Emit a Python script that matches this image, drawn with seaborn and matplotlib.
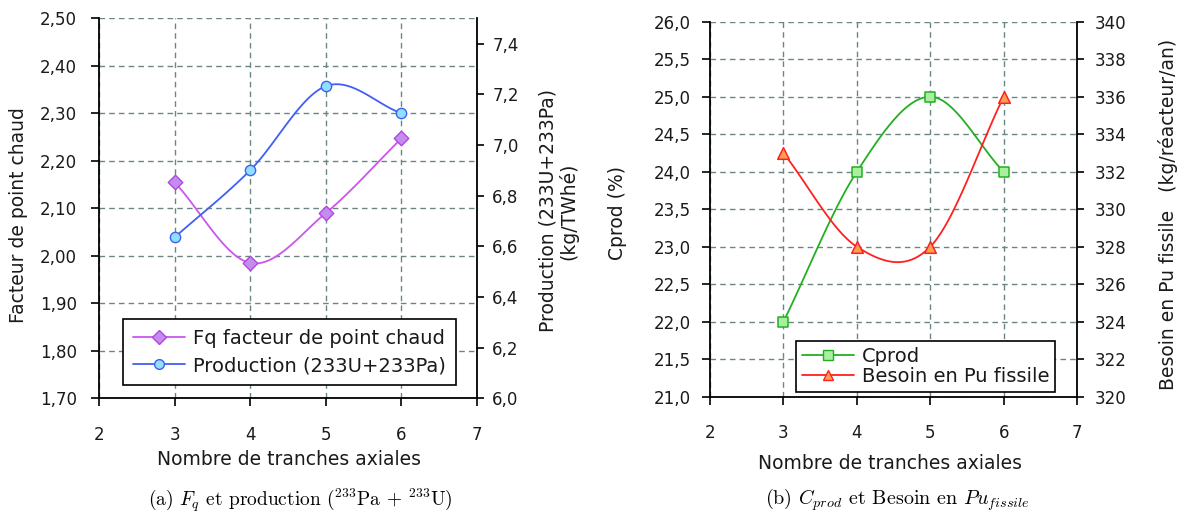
import numpy as np
import pandas as pd
import matplotlib
matplotlib.use("Agg")
import matplotlib.pyplot as plt
from matplotlib.lines import Line2D
from matplotlib.ticker import FuncFormatter, MultipleLocator
import seaborn as sns

# ---------------- data ----------------
tranches = [3, 4, 5, 6]
fq = [2.155, 1.985, 2.09, 2.247]
production = [6.635, 6.90, 7.232, 7.125]
cprod = [22.0, 24.0, 25.0, 24.0]
besoin = [333.0, 328.0, 328.0, 336.0]

sns.set_theme(style="white")
plt.rcParams["font.family"] = ["DejaVu Sans"]
plt.rcParams["mathtext.fontset"] = "cm"

TXT = "#1a1a1a"
GRID = "#6b8585"
LBL = 13.5
LEG = 14


def smooth(x, y, n=40):
    x = np.asarray(x, float)
    y = np.asarray(y, float)
    m = np.zeros_like(y)
    m[0] = (y[1] - y[0]) / (x[1] - x[0])
    m[-1] = (y[-1] - y[-2]) / (x[-1] - x[-2])
    for i in range(1, len(x) - 1):
        m[i] = (y[i + 1] - y[i - 1]) / (x[i + 1] - x[i - 1])
    xs, ys = [], []
    for i in range(len(x) - 1):
        h = x[i + 1] - x[i]
        t = np.linspace(0, 1, n, endpoint=(i == len(x) - 2))
        h00 = 2 * t**3 - 3 * t**2 + 1
        h10 = t**3 - 2 * t**2 + t
        h01 = -2 * t**3 + 3 * t**2
        h11 = t**3 - t**2
        xs.append(x[i] + t * h)
        ys.append(h00 * y[i] + h10 * h * m[i] + h01 * y[i + 1] + h11 * h * m[i + 1])
    return pd.DataFrame({"x": np.concatenate(xs), "y": np.concatenate(ys)})


def comma(fmt):
    return FuncFormatter(lambda v, p: (fmt % v).replace(".", ","))


def style_axes(ax, ax2, ypad_left, ypad_right):
    for a in (ax, ax2):
        a.set_facecolor("none")
        for s in a.spines.values():
            s.set_visible(False)
    ax.spines["left"].set_visible(True)
    ax.spines["bottom"].set_visible(True)
    ax2.spines["right"].set_visible(True)
    for s in (ax.spines["left"], ax.spines["bottom"], ax2.spines["right"]):
        s.set_color("black")
        s.set_linewidth(1.3)
    ax.set_xlim(2, 7)
    ax.xaxis.set_major_locator(MultipleLocator(1))
    ax.tick_params(axis="x", direction="out", length=6, width=1.2, color="black",
                   labelsize=12, labelcolor=TXT, bottom=True, pad=14)
    ax.tick_params(axis="y", direction="out", length=6, width=1.2, color="black",
                   labelsize=12, labelcolor=TXT, left=True, pad=ypad_left)
    ax2.tick_params(axis="y", direction="out", length=5, width=1.2, color="black",
                    labelsize=12, labelcolor=TXT, right=True, pad=ypad_right)
    ax.grid(True, which="major", color=GRID, linestyle=(0, (4, 3)), linewidth=1.0)
    ax.set_axisbelow(True)


def place_labels(ax, ax2, xl, yl, yr):
    ax.xaxis.set_label_coords(*xl)
    ax.xaxis.label.set_va("center")
    ax.yaxis.set_label_coords(*yl)
    ax.yaxis.label.set_va("center")
    ax2.yaxis.set_label_coords(*yr)
    ax2.yaxis.label.set_va("center")


fig = plt.figure(figsize=(11.85, 5.24), dpi=100)

# ================= panel (a) =================
axA = fig.add_axes([0.0835, 0.2399, 0.3190, 0.7252])
axA2 = axA.twinx()
style_axes(axA, axA2, 10, 6)
axA.set_ylim(1.70, 2.50)
axA.yaxis.set_major_locator(MultipleLocator(0.10))
axA.yaxis.set_major_formatter(comma("%.2f"))
axA2.set_ylim(6.0, 7.5)
axA2.set_yticks(np.arange(6.0, 7.41, 0.2))
axA2.yaxis.set_major_formatter(comma("%.1f"))

c_fq, c_fq_face, c_fq_edge = "#cc55ee", "#c58cf0", "#b048e0"
c_pr, c_pr_face = "#3f5ff5", "#8fe0ff"

sA = smooth(tranches, fq)
sns.lineplot(data=sA, x="x", y="y", ax=axA, color=c_fq, linewidth=1.3, sort=False)
sns.scatterplot(x=tranches, y=fq, ax=axA, marker="D", s=55, color=c_fq_face,
                edgecolor=c_fq_edge, linewidth=1.0, zorder=5)
sP = smooth(tranches, production)
sns.lineplot(data=sP, x="x", y="y", ax=axA2, color=c_pr, linewidth=1.3, sort=False)
sns.scatterplot(x=tranches, y=production, ax=axA2, marker="o", s=55, color=c_pr_face,
                edgecolor=c_pr, linewidth=1.0, zorder=5)

axA.set_xlabel("Nombre de tranches axiales", fontsize=LBL, color=TXT)
axA.set_ylabel("Facteur de point chaud", fontsize=LBL, color=TXT)
axA2.set_ylabel("Production (233U+233Pa)\n(kg/TWhé)", fontsize=LBL, color=TXT,
                linespacing=1.05)
place_labels(axA, axA2, (0.503, -0.162), (-0.214, 0.482), (1.216, 0.493))

hA = [Line2D([], [], color=c_fq, lw=1.3, marker="D", ms=7, mfc=c_fq_face, mec=c_fq_edge),
      Line2D([], [], color=c_pr, lw=1.3, marker="o", ms=7, mfc=c_pr_face, mec=c_pr)]
legA = axA2.legend(hA, ["Fq facteur de point chaud", "Production (233U+233Pa)"],
                   loc="lower left", bbox_to_anchor=(0.1038, 0.2653),
                   bbox_transform=fig.transFigure, fontsize=LEG, frameon=True,
                   fancybox=False, framealpha=1, edgecolor="black",
                   handlelength=2.7, handletextpad=0.4, borderpad=0.5,
                   borderaxespad=0, labelspacing=0.45)
legA.get_frame().set_linewidth(1.2)
for t in legA.get_texts():
    t.set_color(TXT)

# ================= panel (b) =================
axB = fig.add_axes([0.5992, 0.2429, 0.3097, 0.7156])
axB2 = axB.twinx()
style_axes(axB, axB2, 8, 8)
axB.set_ylim(21.0, 26.0)
axB.yaxis.set_major_locator(MultipleLocator(0.5))
axB.yaxis.set_major_formatter(comma("%.1f"))
axB2.set_ylim(320, 340)
axB2.yaxis.set_major_locator(MultipleLocator(2))

c_cp, c_cp_face = "#22b022", "#a8f0a0"
c_be, c_be_face = "#ff2020", "#ffa050"

sC = smooth(tranches, cprod)
sns.lineplot(data=sC, x="x", y="y", ax=axB, color=c_cp, linewidth=1.3, sort=False)
sns.scatterplot(x=tranches, y=cprod, ax=axB, marker="s", s=60, color=c_cp_face,
                edgecolor=c_cp, linewidth=1.1, zorder=5)
sB = smooth(tranches, besoin)
sns.lineplot(data=sB, x="x", y="y", ax=axB2, color=c_be, linewidth=1.3, sort=False)
sns.scatterplot(x=tranches, y=besoin, ax=axB2, marker="^", s=70, color=c_be_face,
                edgecolor=c_be, linewidth=1.1, zorder=5)

axB.set_xlabel("Nombre de tranches axiales", fontsize=LBL, color=TXT)
axB.set_ylabel("Cprod (%)", fontsize=LBL, color=TXT)
axB2.set_ylabel("Besoin en Pu fissile   (kg/réacteur/an)", fontsize=LBL, color=TXT)
place_labels(axB, axB2, (0.49, -0.177), (-0.253, 0.490), (1.248, 0.487))

hB = [Line2D([], [], color=c_cp, lw=1.3, marker="s", ms=7, mfc=c_cp_face, mec=c_cp),
      Line2D([], [], color=c_be, lw=1.3, marker="^", ms=7.5, mfc=c_be_face, mec=c_be)]
legB = axB2.legend(hB, ["Cprod", "Besoin en Pu fissile"],
                   loc="lower left", bbox_to_anchor=(0.6717, 0.2519),
                   bbox_transform=fig.transFigure, fontsize=LEG, frameon=True,
                   fancybox=False, framealpha=1, edgecolor="black",
                   handlelength=2.7, handletextpad=0.4, borderpad=0.3,
                   borderaxespad=0, labelspacing=0.05)
legB.get_frame().set_linewidth(1.2)
for t in legB.get_texts():
    t.set_color(TXT)

# ================= captions =================
fig.text(0.253, 0.046, r"(a) $F_q$ et production ($^{233}$Pa + $^{233}$U)",
         ha="center", va="center", fontsize=14, family="cmr10", color="black")
fig.text(0.757, 0.046, r"(b) $C_{prod}$ et Besoin en $Pu_{fissile}$",
         ha="center", va="center", fontsize=14.5, family="cmr10", color="black")

fig.savefig("out.png", dpi=100)
